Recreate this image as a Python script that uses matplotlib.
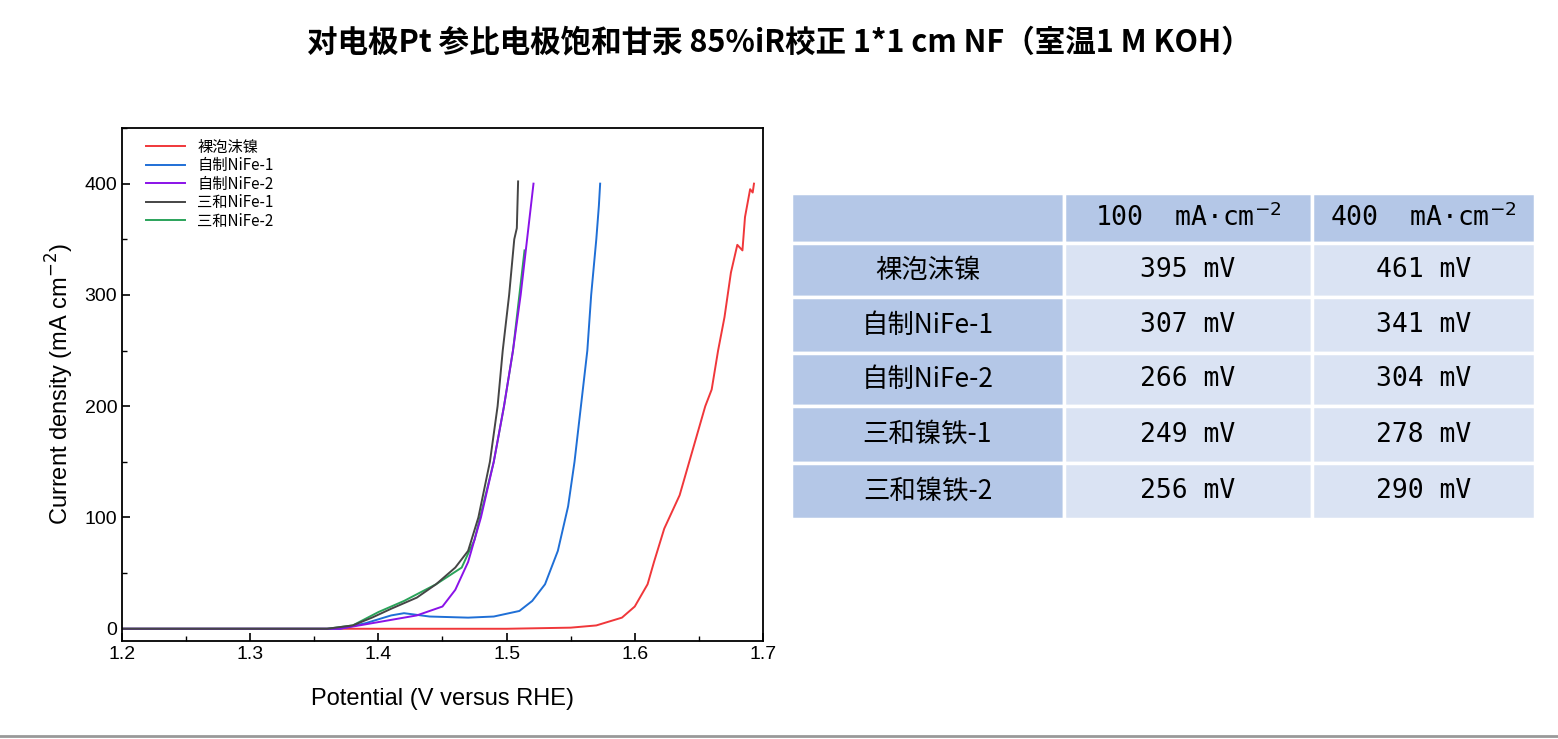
import matplotlib
matplotlib.use("Agg")
import matplotlib.pyplot as plt
from matplotlib.patches import Rectangle
from matplotlib.ticker import MultipleLocator

CJK = ["Noto Sans CJK JP", "Noto Sans CJK SC", "Noto Sans CJK TC", "Noto Sans CJK KR"]
plt.rcParams["font.family"] = ["Liberation Sans"] + CJK

labels = ["裸泡沫镍", "自制NiFe-1", "自制NiFe-2", "三和NiFe-1", "三和NiFe-2"]
colors = ["#f0373a", "#1f6fd6", "#8a12e8", "#454545", "#2aa35a"]

red_v = [1.2, 1.4, 1.5, 1.55, 1.57, 1.59, 1.60, 1.61, 1.615, 1.623, 1.635, 1.645, 1.655, 1.66, 1.665, 1.67, 1.675, 1.68, 1.684, 1.686, 1.69, 1.692, 1.693]
red_j = [0, 0, 0, 1, 3, 10, 20, 40, 60, 90, 120, 160, 200, 215, 250, 280, 320, 345, 340, 370, 395, 392, 400]
blue_v = [1.2, 1.37, 1.39, 1.41, 1.42, 1.44, 1.47, 1.49, 1.51, 1.52, 1.53, 1.54, 1.548, 1.553, 1.558, 1.563, 1.566, 1.57, 1.572, 1.573]
blue_j = [0, 0, 5, 12, 14, 11, 10, 11, 16, 25, 40, 70, 110, 150, 200, 250, 300, 350, 380, 400]
purple_v = [1.2, 1.37, 1.385, 1.41, 1.43, 1.45, 1.46, 1.47, 1.48, 1.49, 1.498, 1.505, 1.511, 1.516, 1.521]
purple_j = [0, 0, 3, 8, 12, 20, 35, 60, 100, 150, 200, 250, 300, 350, 400]
black_v = [1.2, 1.36, 1.38, 1.395, 1.41, 1.43, 1.445, 1.46, 1.47, 1.478, 1.487, 1.493, 1.497, 1.502, 1.506, 1.508, 1.509]
black_j = [0, 0, 3, 10, 18, 28, 40, 55, 70, 100, 150, 200, 250, 300, 350, 360, 402]
green_v = [1.2, 1.36, 1.38, 1.40, 1.42, 1.445, 1.465, 1.475, 1.49, 1.498, 1.505, 1.51, 1.514]
green_j = [0, 0, 3, 15, 25, 40, 55, 80, 150, 200, 250, 300, 340]
series = [(red_v, red_j), (blue_v, blue_j), (purple_v, purple_j), (black_v, black_j), (green_v, green_j)]
order = [0, 1, 4, 2, 3]

title = "对电极Pt 参比电极饱和甘汞 85%iR校正 1*1 cm NF（室温1 M KOH）"
col_headers = ["", "100  mA·cm$^{-2}$", "400  mA·cm$^{-2}$"]
row_labels = ["裸泡沫镍", "自制NiFe-1", "自制NiFe-2", "三和镍铁-1", "三和镍铁-2"]
eta100 = [395, 307, 266, 249, 256]
eta400 = [461, 341, 304, 278, 290]

fig = plt.figure(figsize=(15.58, 7.39), dpi=100)
fig.text(0.5, 0.943, title, ha="center", va="center", fontsize=22, fontweight="bold", family=CJK)

ax = fig.add_axes([0.0783, 0.1326, 0.4114, 0.6942])
lines = {}
for i in order:
    v, j = series[i]
    lines[i], = ax.plot(v, j, color=colors[i], lw=1.4, label=labels[i])
ax.legend([lines[i] for i in range(5)], labels, loc="upper left", frameon=False,
          prop={"family": CJK, "size": 11}, handlelength=2.6, labelspacing=0.1,
          borderaxespad=0.3, bbox_to_anchor=(0.02, 1.0))
ax.set_xlim(1.2, 1.7)
ax.set_ylim(-11, 450)
ax.xaxis.set_major_locator(MultipleLocator(0.1))
ax.xaxis.set_minor_locator(MultipleLocator(0.05))
ax.yaxis.set_major_locator(MultipleLocator(100))
ax.yaxis.set_minor_locator(MultipleLocator(50))
ax.tick_params(which="both", direction="in", labelsize=14)
ax.tick_params(which="major", length=6, width=1.2)
ax.tick_params(which="minor", length=3.5, width=1.0)
for s in ax.spines.values():
    s.set_linewidth(1.3)
ax.set_xlabel("Potential (V versus RHE)", fontsize=17, labelpad=18)
ax.set_ylabel("Current density (mA cm$^{-2}$)", fontsize=17, labelpad=6)

W, H = 1558, 739
xs = [791, 1064, 1312, 1535]
ys = [193, 243, 297, 353, 406, 463, 519]
dark, light = "#b4c7e7", "#dae3f3"
rows = [col_headers] + [[row_labels[k], f"{eta100[k]} mV", f"{eta400[k]} mV"] for k in range(5)]
for r in range(6):
    for c in range(3):
        x0, x1 = xs[c], xs[c + 1]
        y0, y1 = ys[r], ys[r + 1]
        col = dark if (r == 0 or c == 0) else light
        fig.patches.append(Rectangle((x0 / W, 1 - y1 / H), (x1 - x0) / W, (y1 - y0) / H,
                                     transform=fig.transFigure, facecolor=col,
                                     edgecolor="white", lw=2.5))
        txt = rows[r][c]
        if txt:
            fig.text((x0 + x1) / 2 / W, 1 - (y0 + y1) / 2 / H, txt, ha="center", va="center",
                     fontsize=19, family=(["DejaVu Sans Mono"] + CJK) if c else CJK)

fig.add_artist(plt.Line2D([0, 1], [0.004, 0.004], color="#999999", lw=2, transform=fig.transFigure))
fig.savefig("out.png", dpi=100)
